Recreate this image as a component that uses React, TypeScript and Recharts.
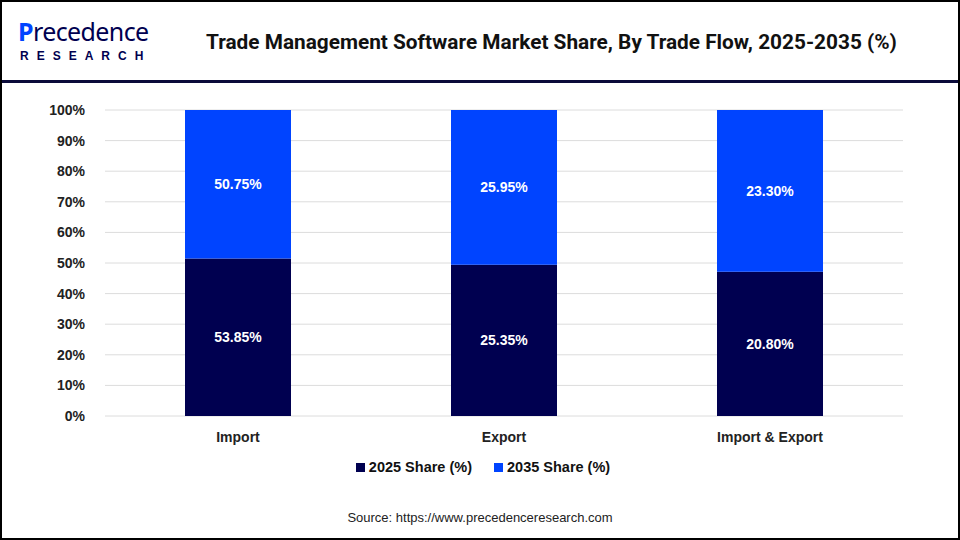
import { BarChart, Bar, XAxis, YAxis, CartesianGrid, Legend, LabelList } from "recharts";

const categories = ["Import", "Export", "Import & Export"];
const share2025 = [53.85, 25.35, 20.8];
const share2035 = [50.75, 25.95, 23.3];
const yTicks = [0, 0.1, 0.2, 0.3, 0.4, 0.5, 0.6, 0.7, 0.8, 0.9, 1];

const data = categories.map((name, i) => ({
  name,
  s2025: share2025[i],
  s2035: share2035[i],
}));

const NAVY = "#000050";
const BLUE = "#0044ff";

const fmt = (v: any) => `${Number(v).toFixed(2)}%`;

const renderLegend = (props: any) => {
  const { payload } = props;
  return (
    <div style={{ display: "flex", justifyContent: "center", gap: 22, paddingLeft: 6 }}>
      {payload.map((p: any) => (
        <div key={p.value} style={{ display: "flex", alignItems: "center", gap: 4 }}>
          <div style={{ width: 9, height: 9, background: p.color }} />
          <span style={{ color: "#111", fontSize: 14.5, fontWeight: 700 }}>{p.value}</span>
        </div>
      ))}
    </div>
  );
};

export default function App() {
  return (
    <div
      style={{
        position: "absolute",
        left: 0,
        top: 0,
        width: 960,
        height: 540,
        background: "#fff",
        boxSizing: "border-box",
        border: "2px solid #000",
        fontFamily: "Arial, 'Liberation Sans', sans-serif",
        overflow: "hidden",
      }}
    >
      {/* logo */}
      <div style={{ position: "absolute", left: 16, top: 16, lineHeight: 1 }}>
        <div style={{ fontSize: 25, color: NAVY, fontFamily: "'Noto Sans', sans-serif", letterSpacing: -0.6, lineHeight: "26px" }}>
          <span style={{ color: BLUE, fontWeight: 700 }}>P</span>recedence
        </div>
        <div style={{ fontSize: 12, color: NAVY, letterSpacing: 8, marginTop: 6, marginLeft: 2, fontWeight: 600, lineHeight: "12px" }}>
          RESEARCH
        </div>
      </div>
      {/* title */}
      <div
        style={{
          position: "absolute",
          left: 204,
          top: 28,
          fontSize: 20.8,
          fontWeight: 700,
          color: "#111",
          fontFamily: "'Liberation Sans Narrow', 'Roboto', sans-serif",
          whiteSpace: "nowrap",
        }}
      >
        Trade Management Software Market Share, By Trade Flow, 2025-2035 (%)
      </div>
      <div style={{ position: "absolute", left: 0, top: 78, width: 960, height: 3, background: "#0a0a3a" }} />

      <div style={{ position: "absolute", left: -2, top: 86 }}>
        <BarChart
          width={960}
          height={387}
          data={data}
          stackOffset="expand"
          barCategoryGap="20%"
          margin={{ top: 22, right: 57, left: 0, bottom: 0 }}
        >
          <CartesianGrid vertical={false} stroke="#dcdcdc" />
          <XAxis
            dataKey="name"
            axisLine={false}
            tickLine={false}
            tick={{ fill: "#222", fontSize: 14, fontWeight: 700 }}
            tickMargin={10}
            height={36}
          />
          <YAxis
            width={105}
            ticks={yTicks}
            domain={[0, 1]}
            interval={0}
            axisLine={false}
            tickLine={false}
            tickFormatter={(v: number) => `${Math.round(v * 100)}%`}
            tick={{ fill: "#222", fontSize: 14, fontWeight: 700 }}
            tickMargin={14}
          />
          <Legend
            verticalAlign="bottom"
            content={renderLegend}
            wrapperStyle={{ left: 0, width: 960, paddingTop: 7 }}
          />
          <Bar dataKey="s2025" name="2025 Share (%)" stackId="a" fill={NAVY} barSize={106} isAnimationActive={false}>
            <LabelList dataKey="s2025" position="center" formatter={fmt} fill="#fff" fontSize={14} fontWeight={700} />
          </Bar>
          <Bar dataKey="s2035" name="2035 Share (%)" stackId="a" fill={BLUE} barSize={106} isAnimationActive={false}>
            <LabelList dataKey="s2035" position="center" formatter={fmt} fill="#fff" fontSize={14} fontWeight={700} />
          </Bar>
        </BarChart>
      </div>

      <div
        style={{
          position: "absolute",
          left: 0,
          width: 956,
          top: 508,
          textAlign: "center",
          fontSize: 13,
          color: "#222",
        }}
      >
        Source: https://www.precedenceresearch.com
      </div>
    </div>
  );
}
